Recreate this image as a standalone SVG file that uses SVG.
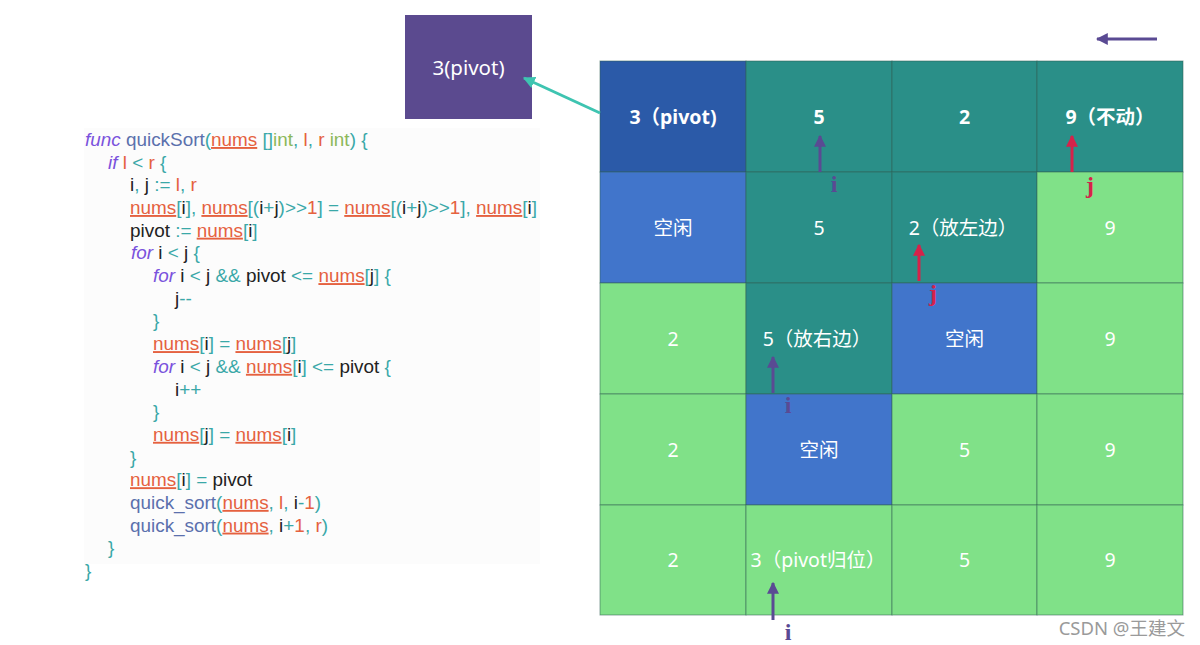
<svg xmlns="http://www.w3.org/2000/svg" width="1200" height="645" viewBox="0 0 1200 645">
<defs>
<style>
.code{font-family:"Liberation Sans","Noto Sans",sans-serif;font-size:18.9px;fill:#222}
.k{fill:#7a52dc;font-style:italic}
.f{fill:#5b70ad}
.n{fill:#e5613f;text-decoration:underline dotted #e8705a;text-decoration-thickness:1px}
.p{fill:#3aa8a8}
.r{fill:#e5613f}
.g{fill:#8cb85a}
.cell{font-family:"Noto Sans","Noto Sans CJK SC",sans-serif;font-size:19.5px;fill:#fff;text-anchor:middle}
.b{font-weight:bold}
.lab{font-family:"Liberation Serif",serif;font-size:24px;font-weight:bold}
</style>
<marker id="ah" viewBox="0 0 10 10" refX="9" refY="5" markerWidth="4" markerHeight="4" orient="auto-start-reverse"><path d="M0,0 L10,5 L0,10 z" fill="context-stroke"/></marker>
</defs>
<rect width="1200" height="645" fill="#fff"/>
<rect x="84" y="128" width="456" height="436" fill="#fcfcfc"/>
<g id="code" class="code">
<text x="85" y="146"><tspan class="k">func</tspan><tspan class="f"> quickSort</tspan><tspan class="p">(</tspan><tspan class="n">nums</tspan><tspan class="p"> []</tspan><tspan class="g">int</tspan><tspan class="p">, </tspan><tspan class="r">l</tspan><tspan class="p">, </tspan><tspan class="r">r</tspan><tspan class="g"> int</tspan><tspan class="p">) {</tspan></text>
<text x="108" y="168.7"><tspan class="k">if</tspan><tspan class="r"> l</tspan><tspan class="p"> &lt; </tspan><tspan class="r">r</tspan><tspan class="p"> {</tspan></text>
<text x="130" y="191.4">i<tspan class="p">, </tspan>j<tspan class="p"> := </tspan><tspan class="r">l</tspan><tspan class="p">, </tspan><tspan class="r">r</tspan></text>
<text x="130" y="214"><tspan class="n">nums</tspan><tspan class="p">[</tspan>i<tspan class="p">], </tspan><tspan class="n">nums</tspan><tspan class="p">[(</tspan>i<tspan class="p">+</tspan>j<tspan class="p">)&gt;&gt;</tspan><tspan class="r">1</tspan><tspan class="p">] = </tspan><tspan class="n">nums</tspan><tspan class="p">[(</tspan>i<tspan class="p">+</tspan>j<tspan class="p">)&gt;&gt;</tspan><tspan class="r">1</tspan><tspan class="p">], </tspan><tspan class="n">nums</tspan><tspan class="p">[</tspan>i<tspan class="p">]</tspan></text>
<text x="130" y="236.7">pivot<tspan class="p"> := </tspan><tspan class="n">nums</tspan><tspan class="p">[</tspan>i<tspan class="p">]</tspan></text>
<text x="131" y="259.4"><tspan class="k">for</tspan> i<tspan class="p"> &lt; </tspan>j<tspan class="p"> {</tspan></text>
<text x="153" y="282.1"><tspan class="k">for</tspan> i<tspan class="p"> &lt; </tspan>j<tspan class="p"> &amp;&amp; </tspan>pivot<tspan class="p"> &lt;= </tspan><tspan class="n">nums</tspan><tspan class="p">[</tspan>j<tspan class="p">] {</tspan></text>
<text x="175" y="304.8">j<tspan class="p">--</tspan></text>
<text x="153" y="327.4" class="p">}</text>
<text x="153" y="350.1"><tspan class="n">nums</tspan><tspan class="p">[</tspan>i<tspan class="p">] = </tspan><tspan class="n">nums</tspan><tspan class="p">[</tspan>j<tspan class="p">]</tspan></text>
<text x="153" y="372.8"><tspan class="k">for</tspan> i<tspan class="p"> &lt; </tspan>j<tspan class="p"> &amp;&amp; </tspan><tspan class="n">nums</tspan><tspan class="p">[</tspan>i<tspan class="p">] &lt;= </tspan>pivot<tspan class="p"> {</tspan></text>
<text x="175" y="395.5">i<tspan class="p">++</tspan></text>
<text x="153" y="418.2" class="p">}</text>
<text x="153" y="440.8"><tspan class="n">nums</tspan><tspan class="p">[</tspan>j<tspan class="p">] = </tspan><tspan class="n">nums</tspan><tspan class="p">[</tspan>i<tspan class="p">]</tspan></text>
<text x="130" y="463.5" class="p">}</text>
<text x="130" y="486.2"><tspan class="n">nums</tspan><tspan class="p">[</tspan>i<tspan class="p">] = </tspan>pivot</text>
<text x="130" y="508.9"><tspan class="f">quick_sort</tspan><tspan class="p">(</tspan><tspan class="n">nums</tspan><tspan class="p">, </tspan><tspan class="r">l</tspan><tspan class="p">, </tspan>i<tspan class="p">-</tspan><tspan class="r">1</tspan><tspan class="p">)</tspan></text>
<text x="130" y="531.6"><tspan class="f">quick_sort</tspan><tspan class="p">(</tspan><tspan class="n">nums</tspan><tspan class="p">, </tspan>i<tspan class="p">+</tspan><tspan class="r">1</tspan><tspan class="p">, </tspan><tspan class="r">r</tspan><tspan class="p">)</tspan></text>
<text x="108" y="554.2" class="p">}</text>
<text x="85" y="576.9" class="p">}</text>
</g>
<g id="pivot-box">
<rect x="405" y="15" width="127" height="104" fill="#5b4a8f"/>
<text x="468.5" y="75" class="cell" style="font-size:20.5px">3(pivot)</text>
</g>
<g id="grid" stroke="#2f5f55" stroke-opacity="0.55" stroke-width="1">
<rect x="600" y="61" width="146" height="111" fill="#2b5aa8"/>
<rect x="746" y="61" width="146" height="111" fill="#2a8f88"/>
<rect x="892" y="61" width="145" height="111" fill="#2a8f88"/>
<rect x="1037" y="61" width="146" height="111" fill="#2a8f88"/>
<rect x="600" y="172" width="146" height="111" fill="#4175cb"/>
<rect x="746" y="172" width="146" height="111" fill="#2a8f88"/>
<rect x="892" y="172" width="145" height="111" fill="#2a8f88"/>
<rect x="1037" y="172" width="146" height="111" fill="#80e188"/>
<rect x="600" y="283" width="146" height="111" fill="#80e188"/>
<rect x="746" y="283" width="146" height="111" fill="#2a8f88"/>
<rect x="892" y="283" width="145" height="111" fill="#4175cb"/>
<rect x="1037" y="283" width="146" height="111" fill="#80e188"/>
<rect x="600" y="394" width="146" height="111" fill="#80e188"/>
<rect x="746" y="394" width="146" height="111" fill="#4175cb"/>
<rect x="892" y="394" width="145" height="111" fill="#80e188"/>
<rect x="1037" y="394" width="146" height="111" fill="#80e188"/>
<rect x="600" y="505" width="146" height="110" fill="#80e188"/>
<rect x="746" y="505" width="146" height="110" fill="#80e188"/>
<rect x="892" y="505" width="145" height="110" fill="#80e188"/>
<rect x="1037" y="505" width="146" height="110" fill="#80e188"/>
</g>
<g id="cells">
<text x="673" y="123.5" class="cell b">3（pivot)</text>
<text x="819" y="123.5" class="cell b">5</text>
<text x="964.5" y="123.5" class="cell b">2</text>
<text x="1110" y="123.5" class="cell b">9（不动）</text>
<text x="673" y="234.5" class="cell">空闲</text>
<text x="819" y="234.5" class="cell">5</text>
<text x="963" y="234.5" class="cell">2（放左边）</text>
<text x="1110" y="234.5" class="cell">9</text>
<text x="673" y="345.5" class="cell">2</text>
<text x="817" y="345.5" class="cell">5（放右边）</text>
<text x="964.5" y="345.5" class="cell">空闲</text>
<text x="1110" y="345.5" class="cell">9</text>
<text x="673" y="456.5" class="cell">2</text>
<text x="819" y="456.5" class="cell">空闲</text>
<text x="964.5" y="456.5" class="cell">5</text>
<text x="1110" y="456.5" class="cell">9</text>
<text x="673" y="566.5" class="cell">2</text>
<text x="818" y="566.5" class="cell">3（pivot归位）</text>
<text x="964.5" y="566.5" class="cell">5</text>
<text x="1110" y="566.5" class="cell">9</text>
</g>
<g id="connectors" stroke-width="3" fill="none" marker-end="url(#ah)">
<line x1="600" y1="113" x2="524" y2="78" stroke="#3ec4b1"/>
<line x1="1157" y1="39" x2="1097" y2="39" stroke="#5a4a93"/>
<line x1="820" y1="172" x2="820" y2="136" stroke="#5a4a93"/>
<line x1="1072" y1="172" x2="1072" y2="136" stroke="#d6224a"/>
<line x1="919" y1="281" x2="919" y2="245" stroke="#d6224a"/>
<line x1="773" y1="393" x2="773" y2="357" stroke="#5a4a93"/>
<line x1="773" y1="620" x2="773" y2="583" stroke="#5a4a93"/>
</g>
<g id="labels" class="lab">
<text x="834" y="192" fill="#5a4a93" text-anchor="middle">i</text>
<text x="1090" y="193" fill="#d6224a" text-anchor="middle">j</text>
<text x="933" y="301" fill="#d6224a" text-anchor="middle">j</text>
<text x="788" y="413" fill="#5a4a93" text-anchor="middle">i</text>
<text x="788" y="640" fill="#5a4a93" text-anchor="middle">i</text>
</g>
<text x="1185" y="635" font-family="'Noto Sans','Noto Sans CJK SC',sans-serif" font-size="18.5" fill="#9a9a9a" text-anchor="end">CSDN @王建文</text>
</svg>
